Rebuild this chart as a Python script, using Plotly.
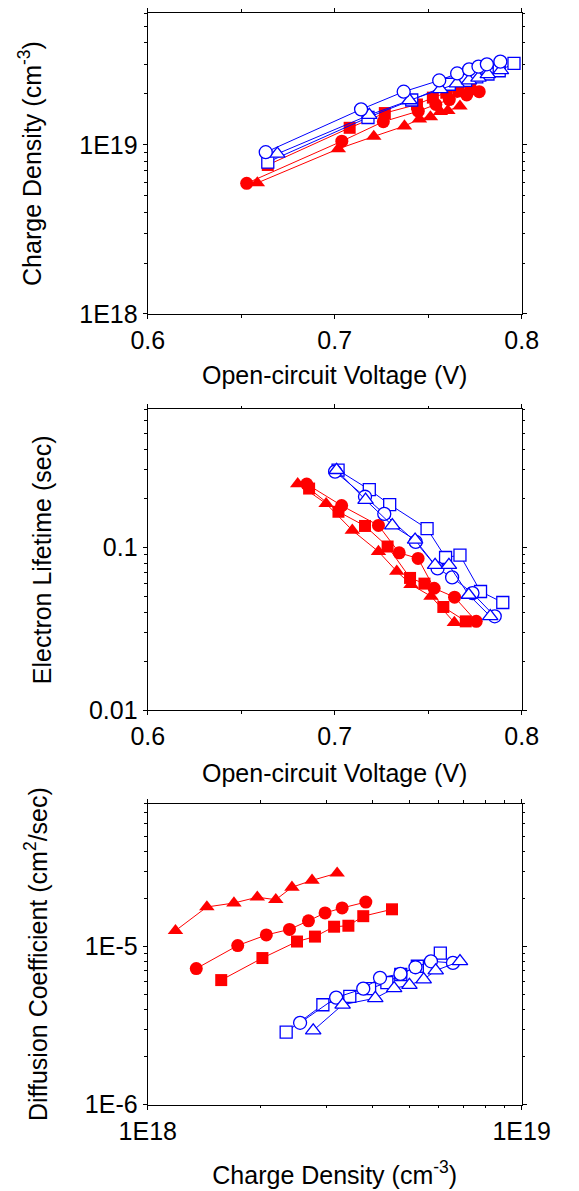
import math
import plotly.graph_objects as go

RED = "#FF0000"
BLUE = "#0000FF"
FONT = "Liberation Sans, Arial, sans-serif"

# ---- Panel 1: charge density vs open-circuit voltage ----
p1_red_sq_v = [0.6642, 0.7080, 0.7268, 0.7440, 0.7525, 0.7597, 0.7661, 0.7725]
p1_red_sq_n = [7.6e18, 1.26e19, 1.54e19, 1.73e19, 1.90e19, 2.03e19, 2.08e19, 2.13e19]
p1_red_ci_v = [0.6529, 0.7038, 0.7260, 0.7447, 0.7541, 0.7613, 0.7706, 0.7773]
p1_red_ci_n = [5.92e18, 1.05e19, 1.37e19, 1.58e19, 1.73e19, 1.85e19, 1.97e19, 2.06e19]
p1_red_tr_v = [0.6586, 0.7019, 0.7209, 0.7373, 0.7453, 0.7512, 0.7565, 0.7605, 0.7670]
p1_red_tr_n = [5.95e18, 9.46e18, 1.12e19, 1.29e19, 1.42e19, 1.46e19, 1.57e19, 1.59e19, 1.69e19]
p1_blue_sq_v = [0.6642, 0.7178, 0.7412, 0.7613, 0.7700, 0.7760, 0.7820, 0.7880, 0.7959]
p1_blue_sq_n = [7.9e18, 1.45e19, 1.84e19, 2.28e19, 2.40e19, 2.52e19, 2.62e19, 2.74e19, 3.03e19]
p1_blue_ci_v = [0.6631, 0.7141, 0.7369, 0.7559, 0.7655, 0.7719, 0.7769, 0.7814, 0.7886]
p1_blue_ci_n = [9.04e18, 1.62e19, 2.06e19, 2.40e19, 2.64e19, 2.79e19, 2.90e19, 2.99e19, 3.10e19]
p1_blue_tr_v = [0.6693, 0.7185, 0.7400, 0.7565, 0.7653, 0.7718, 0.7769, 0.7819, 0.7889]
p1_blue_tr_n = [8.84e18, 1.50e19, 1.83e19, 2.13e19, 2.30e19, 2.40e19, 2.49e19, 2.61e19, 2.76e19]

# ---- Panel 2: electron lifetime vs open-circuit voltage ----
p2_red_sq_v = [0.6863, 0.7020, 0.7162, 0.7283, 0.7403, 0.7480, 0.7581, 0.7701]
p2_red_sq_t = [0.229, 0.165, 0.135, 0.101, 0.0648, 0.0598, 0.043, 0.0351]
p2_red_ci_v = [0.6850, 0.7037, 0.7234, 0.7345, 0.7446, 0.7532, 0.7641, 0.7757]
p2_red_ci_t = [0.244, 0.180, 0.136, 0.0924, 0.0853, 0.056, 0.0494, 0.0351]
p2_red_tr_v = [0.6802, 0.6954, 0.7094, 0.7234, 0.7332, 0.7408, 0.7515, 0.7640]
p2_red_tr_t = [0.245, 0.185, 0.127, 0.094, 0.0711, 0.059, 0.050, 0.0345]
p2_blue_sq_v = [0.7018, 0.7185, 0.7294, 0.7494, 0.7593, 0.7670, 0.7780, 0.7899]
p2_blue_sq_t = [0.297, 0.2255, 0.1827, 0.130, 0.0865, 0.0894, 0.0535, 0.0458]
p2_blue_ci_v = [0.7002, 0.7162, 0.7265, 0.7433, 0.7550, 0.7628, 0.7737, 0.7856]
p2_blue_ci_t = [0.291, 0.204, 0.160, 0.1078, 0.0741, 0.0653, 0.0523, 0.0377]
p2_blue_tr_v = [0.7010, 0.7165, 0.7308, 0.7430, 0.7537, 0.7611, 0.7717, 0.7832]
p2_blue_tr_t = [0.297, 0.195, 0.136, 0.111, 0.0777, 0.0777, 0.051, 0.0377]

# ---- Panel 3: diffusion coefficient vs charge density ----
p3_red_sq_n = [1.572e18, 2.026e18, 2.507e18, 2.80e18, 3.15e18, 3.44e18, 3.77e18, 4.50e18]
p3_red_sq_d = [6.13e-6, 8.45e-6, 1.075e-5, 1.155e-5, 1.334e-5, 1.353e-5, 1.555e-5, 1.719e-5]
p3_red_ci_n = [1.348e18, 1.740e18, 2.075e18, 2.393e18, 2.69e18, 2.98e18, 3.31e18, 3.83e18]
p3_red_ci_d = [7.25e-6, 1.014e-5, 1.183e-5, 1.283e-5, 1.454e-5, 1.631e-5, 1.753e-5, 1.91e-5]
p3_red_tr_n = [1.186e18, 1.439e18, 1.70e18, 1.963e18, 2.20e18, 2.43e18, 2.75e18, 3.21e18]
p3_red_tr_d = [1.259e-5, 1.778e-5, 1.884e-5, 2.05e-5, 1.977e-5, 2.37e-5, 2.62e-5, 2.91e-5]
p3_blue_sq_n = [2.345e18, 2.94e18, 3.47e18, 3.92e18, 4.36e18, 4.75e18, 5.26e18, 6.06e18]
p3_blue_sq_d = [2.87e-6, 4.28e-6, 4.83e-6, 5.41e-6, 5.90e-6, 6.65e-6, 7.50e-6, 9.08e-6]
p3_blue_ci_n = [2.555e18, 3.19e18, 3.77e18, 4.18e18, 4.74e18, 5.20e18, 5.72e18, 6.55e18]
p3_blue_ci_d = [3.29e-6, 4.75e-6, 5.41e-6, 6.34e-6, 6.71e-6, 7.39e-6, 8.06e-6, 7.87e-6]
p3_blue_tr_n = [2.77e18, 3.32e18, 4.06e18, 4.56e18, 5.01e18, 5.47e18, 5.89e18, 6.84e18]
p3_blue_tr_d = [2.94e-6, 4.28e-6, 4.71e-6, 5.44e-6, 5.70e-6, 6.19e-6, 7.05e-6, 8.06e-6]

# Tick labels
v_ticks = [0.6, 0.7, 0.8]
v_ticktext = ["0.6", "0.7", "0.8"]
n_ticks = [1e18, 1e19]
n_ticktext = ["1E18", "1E19"]
t_ticks = [0.01, 0.1]
t_ticktext = ["0.01", "0.1"]
d_ticks = [1e-6, 1e-5]
d_ticktext = ["1E-6", "1E-5"]


def minors(decade_starts, last_top):
    """Minor tick positions 2..9 within each decade, up to the axis top."""
    vals = []
    for base in decade_starts:
        for k in range(2, 10):
            vals.append(k * base)
    return [v for v in vals if v <= last_top * 1.0001]


fig = go.Figure()


def add_series(x, y, symbol, color, filled, xa, ya, size=12):
    fig.add_trace(go.Scatter(
        x=x, y=y, mode="lines+markers", xaxis=xa, yaxis=ya,
        line=dict(color=color, width=1),
        marker=dict(symbol=symbol, size=size,
                    color=color if filled else "white",
                    line=dict(color=color, width=0 if filled else 1.3)),
        showlegend=False, cliponaxis=False,
    ))


SIZES = {"square": 12, "circle": 13, "triangle-up": 13.5}

for (xa, ya, groups) in [
    ("x", "y", [
        (p1_red_sq_v, p1_red_sq_n, "square", RED, True),
        (p1_red_ci_v, p1_red_ci_n, "circle", RED, True),
        (p1_red_tr_v, p1_red_tr_n, "triangle-up", RED, True),
        (p1_blue_sq_v, p1_blue_sq_n, "square", BLUE, False),
        (p1_blue_tr_v, p1_blue_tr_n, "triangle-up", BLUE, False),
        (p1_blue_ci_v, p1_blue_ci_n, "circle", BLUE, False),
    ]),
    ("x2", "y2", [
        (p2_red_sq_v, p2_red_sq_t, "square", RED, True),
        (p2_red_ci_v, p2_red_ci_t, "circle", RED, True),
        (p2_red_tr_v, p2_red_tr_t, "triangle-up", RED, True),
        (p2_blue_sq_v, p2_blue_sq_t, "square", BLUE, False),
        (p2_blue_ci_v, p2_blue_ci_t, "circle", BLUE, False),
        (p2_blue_tr_v, p2_blue_tr_t, "triangle-up", BLUE, False),
    ]),
    ("x3", "y3", [
        (p3_red_sq_n, p3_red_sq_d, "square", RED, True),
        (p3_red_ci_n, p3_red_ci_d, "circle", RED, True),
        (p3_red_tr_n, p3_red_tr_d, "triangle-up", RED, True),
        (p3_blue_sq_n, p3_blue_sq_d, "square", BLUE, False),
        (p3_blue_ci_n, p3_blue_ci_d, "circle", BLUE, False),
        (p3_blue_tr_n, p3_blue_tr_d, "triangle-up", BLUE, False),
    ]),
]:
    for x, y, sym, col, filled in groups:
        add_series(x, y, sym, col, filled, xa, ya, SIZES[sym])

W, H = 579, 1191
x_dom = [132 / W, 547.5 / W]
doms = [
    [1 - 317.7 / H, 1 - 13.3 / H],
    [1 - 718.7 / H, 1 - 414.3 / H],
    [1 - 1117.7 / H, 1 - 813.3 / H],
]

tickfont = dict(family=FONT, size=25, color="black")
titlefont = dict(family=FONT, size=25, color="black")


def axis_common():
    return dict(
        showline=True, linecolor="black", linewidth=1.3, mirror="ticks",
        ticks="outside", ticklen=4, tickwidth=1.2, tickcolor="black",
        showgrid=False, zeroline=False, tickfont=tickfont,
        tickmode="array",
    )


def lin_x(anchor, dom, standoff):
    a = axis_common()
    a.update(domain=dom, anchor=anchor, range=[0.6, 0.8],
             tickvals=v_ticks, ticktext=v_ticktext,
             minor=dict(tickmode="array", tickvals=[0.65, 0.75],
                        ticks="outside", ticklen=2.5, tickwidth=1, tickcolor="black"),
             title=dict(text="Open-circuit Voltage (V)", font=titlefont, standoff=standoff))
    return a


def log_axis(anchor, dom, rng, vals, text, minor_vals, title, standoff):
    a = axis_common()
    a.update(domain=dom, anchor=anchor, type="log", range=rng,
             tickvals=vals, ticktext=text,
             minor=dict(tickmode="array", tickvals=minor_vals,
                        ticks="outside", ticklen=2.5, tickwidth=1, tickcolor="black"),
             title=dict(text=title, font=titlefont, standoff=standoff))
    return a


fig.update_layout(
    width=W, height=H,
    margin=dict(l=0, r=0, t=0, b=0),
    paper_bgcolor="white", plot_bgcolor="white",
    font=dict(family=FONT, color="black"),
    xaxis=lin_x("y", x_dom, 13),
    yaxis=log_axis("x", doms[0], [18, math.log10(6e19)], n_ticks, n_ticktext,
                   minors([1e18, 1e19], 6e19),
                   "Charge Density (cm<sup>-3</sup>)", 30),
    xaxis2=lin_x("y2", x_dom, 15),
    yaxis2=log_axis("x2", doms[1], [-2, math.log10(0.7)], t_ticks, t_ticktext,
                    minors([0.01, 0.1], 0.7),
                    "Electron Lifetime (sec)", 30),
    xaxis3=log_axis("y3", x_dom, [18, 19], n_ticks, n_ticktext,
                    minors([1e18], 1e19),
                    "Charge Density (cm<sup>-3</sup>)", 22),
    yaxis3=log_axis("x3", doms[2], [-6, math.log10(8e-5)], d_ticks, d_ticktext,
                    minors([1e-6, 1e-5], 8e-5),
                    "Diffusion Coefficient (cm<sup>2</sup>/sec)", 30),
)

fig.write_html("out.html")
